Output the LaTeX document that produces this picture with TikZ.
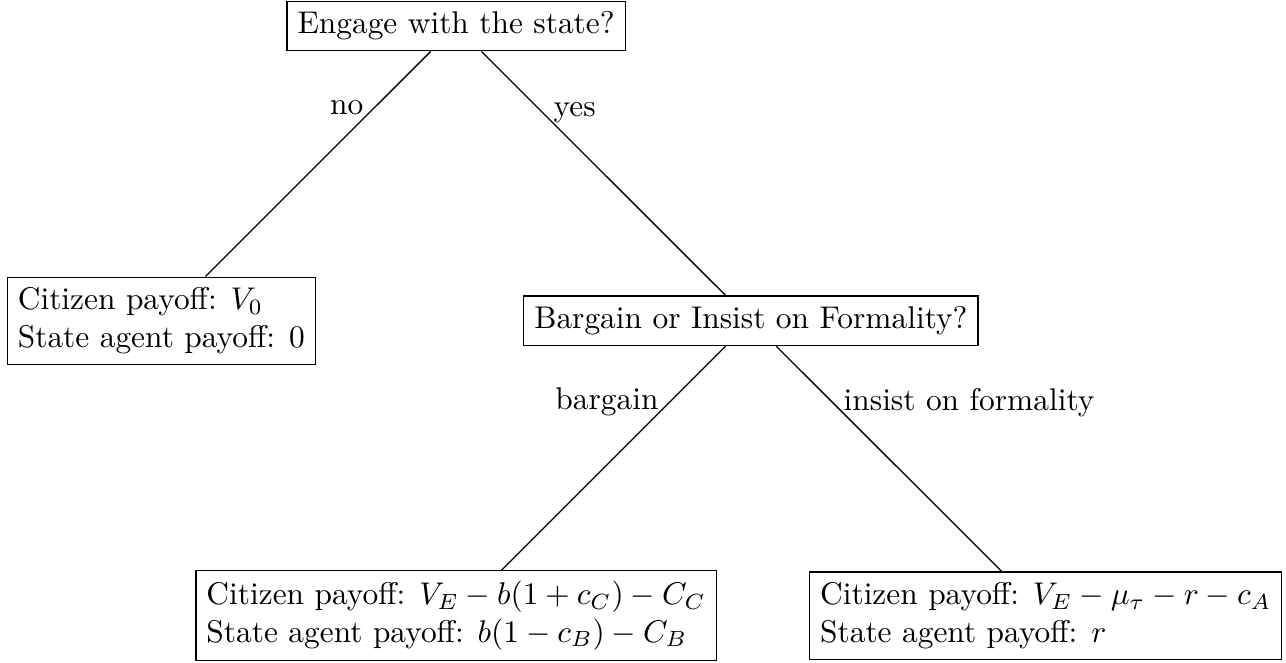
\documentclass[tikz,border=0pt]{standalone}
\usepackage{amsmath, amssymb}
\usepackage{tikz}

\begin{document}
\begin{tikzpicture}[
        choice/.style={rectangle, draw},
        payoff/.style={rectangle, draw, align=left}
    ]
        \useasboundingbox (-5.106, -7.12) rectangle (9.29, 0.291);

        % Nodes
        \node[choice] (engage) at (0, 0) {Engage with the state?};
        \node[payoff] (stayout) at (-3.3, -3.3) {Citizen payoff: $V_0$\\State agent payoff: $0$};
        \node[choice] (formal) at (3.3, -3.3) {Bargain or Insist on Formality?};
        \node[payoff] (bargain) at (0, -6.6) {Citizen payoff: $V_E - b(1 + c_C) - C_C$\\State agent payoff: $b(1 - c_B) - C_B$};
        \node[payoff] (insist) at (6.6, -6.6) {Citizen payoff: $V_E - \mu_\tau - r - c_A$\\State agent payoff: $r$};

        % Edges
        \draw[-] (engage) -- node[left, near start] {no} (stayout);
        \draw[-] (engage) -- node[right, near start] {yes} (formal);
        \draw[-] (formal) -- node[left, near start] {bargain} (bargain);
        \draw[-] (formal) -- node[right, near start] {insist on formality} (insist);
    \end{tikzpicture}
\end{document}
